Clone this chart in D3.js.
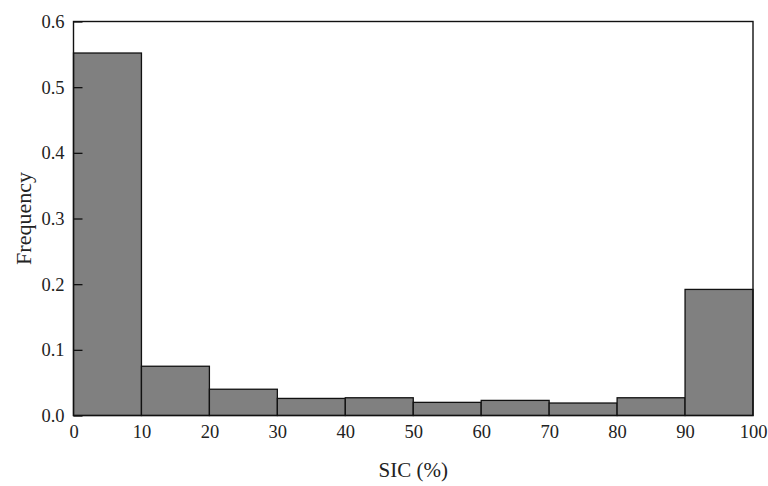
<!DOCTYPE html>
<html>
<head>
<meta charset="utf-8">
<script src="https://cdn.jsdelivr.net/npm/d3@7"></script>
<style>
  body { margin: 0; background: #fff; }
  text { font-family: "Liberation Serif", "DejaVu Serif", serif; fill: #222; }
</style>
</head>
<body>
<svg width="768" height="486"></svg>
<script>
// histogram bins (SIC %) and their frequencies
const binStarts = [0, 10, 20, 30, 40, 50, 60, 70, 80, 90];
const binWidth = 10;
const freqs = [0.552, 0.075, 0.040, 0.026, 0.027, 0.020, 0.023, 0.019, 0.027, 0.192];
const xTicks = [0, 10, 20, 30, 40, 50, 60, 70, 80, 90, 100];
const yTicks = [0.0, 0.1, 0.2, 0.3, 0.4, 0.5, 0.6];

const svg = d3.select("svg");
const plotLeft = 73.5, plotRight = 753, plotTop = 21.5, plotBottom = 415.5;

const x = d3.scaleLinear().domain([0, 100]).range([plotLeft, plotRight]);
const y = d3.scaleLinear().domain([0, 0.6]).range([plotBottom, plotTop]);

// bars
svg.append("g")
    .selectAll("rect")
    .data(binStarts)
    .enter()
    .append("rect")
    .attr("x", d => x(d))
    .attr("y", (d, i) => y(freqs[i]))
    .attr("width", d => x(d + binWidth) - x(d))
    .attr("height", (d, i) => y(0) - y(freqs[i]))
    .attr("fill", "#808080")
    .attr("stroke", "#111")
    .attr("stroke-width", 1.3);

// frame
svg.append("rect")
    .attr("x", plotLeft).attr("y", plotTop)
    .attr("width", plotRight - plotLeft).attr("height", plotBottom - plotTop)
    .attr("fill", "none")
    .attr("stroke", "#111")
    .attr("stroke-width", 1.4);

// y axis: inward ticks
const yAxis = d3.axisRight(y).tickValues(yTicks).tickSize(9).tickFormat(d3.format(".1f"));
const yg = svg.append("g")
    .attr("transform", "translate(" + plotLeft + ",0)")
    .call(yAxis);
yg.select(".domain").remove();
yg.selectAll(".tick line").attr("stroke", "#111").attr("stroke-width", 1.3);
yg.selectAll(".tick text")
    .attr("x", -9)
    .attr("text-anchor", "end")
    .attr("font-size", 18.5)
    .style("font-family", "Liberation Serif, serif")
    .attr("fill", "#222");

// x axis: labels only
const xAxis = d3.axisBottom(x).tickValues(xTicks).tickSize(0).tickPadding(9);
const xg = svg.append("g")
    .attr("transform", "translate(0," + plotBottom + ")")
    .call(xAxis);
xg.select(".domain").remove();
xg.selectAll(".tick text")
    .attr("font-size", 18.5)
    .style("font-family", "Liberation Serif, serif")
    .attr("fill", "#222");

// axis titles
svg.append("text")
    .attr("x", (plotLeft + plotRight) / 2)
    .attr("y", 477)
    .attr("text-anchor", "middle")
    .attr("font-size", 21)
    .text("SIC (%)");

svg.append("text")
    .attr("transform", "translate(31," + ((plotTop + plotBottom) / 2) + ") rotate(-90)")
    .attr("text-anchor", "middle")
    .attr("font-size", 22)
    .text("Frequency");
</script>
</body>
</html>
